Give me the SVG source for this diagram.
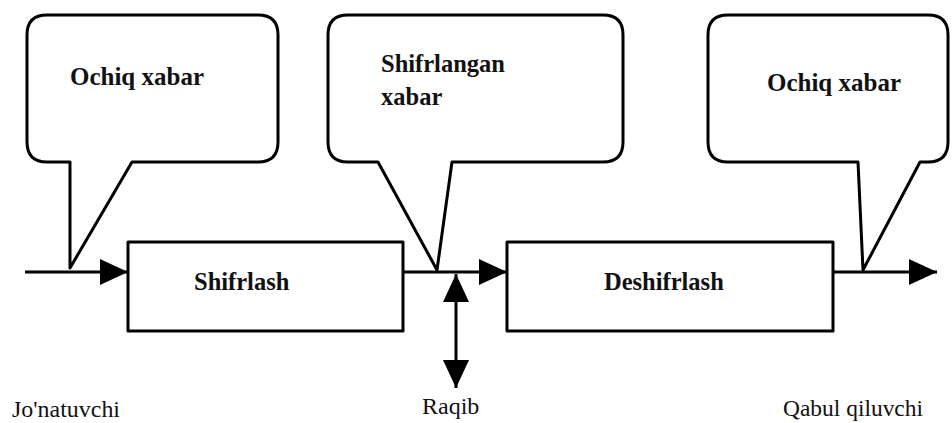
<svg xmlns="http://www.w3.org/2000/svg" width="952" height="423" viewBox="0 0 952 423">
<style>
.shape{fill:#fff;stroke:#000;stroke-width:3;stroke-linejoin:round}
.line{fill:none;stroke:#000;stroke-width:3}
text{fill:#111}
.b{font-weight:bold;font-size:24.5px}
.r{font-size:24px}
</style>
<defs>
<marker id="ah" markerUnits="userSpaceOnUse" markerWidth="30" markerHeight="26" refX="28" refY="13" orient="auto-start-reverse">
<path d="M0,0 L28,13 L0,26 Z" fill="#000"/>
</marker>
</defs>
<g id="connectors">
<line class="line" x1="25" y1="272" x2="128" y2="272" marker-end="url(#ah)"/>
<line class="line" x1="403" y1="272" x2="507" y2="272" marker-end="url(#ah)"/>
<line class="line" x1="833" y1="272" x2="937" y2="272" marker-end="url(#ah)"/>
<line class="line" x1="456" y1="274" x2="456" y2="388" marker-start="url(#ah)" marker-end="url(#ah)"/>
</g>
<g font-family="Times New Roman, Liberation Serif, Tinos, DejaVu Serif, serif">
<g id="bubble1">
<path class="shape" d="M70,162 L70,268 L132,162 L258,162 Q278,162 278,142 L278,35 Q278,15 258,15 L47,15 Q27,15 27,35 L27,142 Q27,162 47,162 Z"/>
<text class="b" x="70" y="85" textLength="134" lengthAdjust="spacingAndGlyphs">Ochiq xabar</text>
</g>
<g id="bubble2">
<path class="shape" d="M378,162 L437,270 L452,162 L603,162 Q623,162 623,142 L623,35 Q623,15 603,15 L348,15 Q328,15 328,35 L328,142 Q328,162 348,162 Z"/>
<text class="b" x="381" y="72">Shifrlangan</text>
<text class="b" x="381" y="105">xabar</text>
</g>
<g id="bubble3">
<path class="shape" d="M858,162 L863,270 L920,162 L928,162 Q948,162 948,142 L948,35 Q948,15 928,15 L728,15 Q708,15 708,35 L708,142 Q708,162 728,162 Z"/>
<text class="b" x="767" y="91" textLength="134" lengthAdjust="spacingAndGlyphs">Ochiq xabar</text>
</g>
<g id="shifrlash">
<rect class="shape" x="128" y="242" width="275" height="89"/>
<text class="b" x="194" y="290">Shifrlash</text>
</g>
<g id="deshifrlash">
<rect class="shape" x="507" y="242" width="326" height="89"/>
<text class="b" x="604" y="290">Deshifrlash</text>
</g>
<g id="jonatuvchi"><text class="r" x="12" y="417" textLength="108" lengthAdjust="spacingAndGlyphs">Jo'natuvchi</text></g>
<g id="raqib"><text class="r" x="422" y="414">Raqib</text></g>
<g id="qabul"><text class="r" x="783" y="416" textLength="140" lengthAdjust="spacingAndGlyphs">Qabul qiluvchi</text></g>
</g>
</svg>
